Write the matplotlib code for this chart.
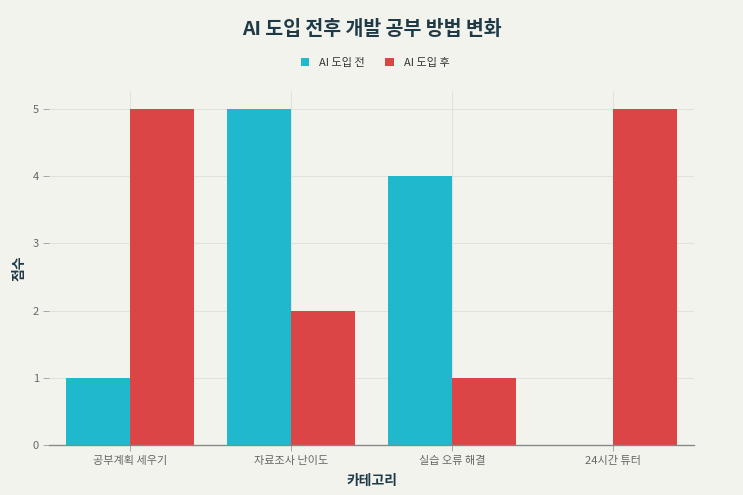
import matplotlib
matplotlib.use("Agg")
import matplotlib.pyplot as plt
import numpy as np
from matplotlib.patches import Patch

plt.rcParams["font.family"] = ["Noto Sans CJK KR", "DejaVu Sans"]

categories = ["공부계획 세우기", "자료조사 난이도", "실습 오류 해결", "24시간 튜터"]
before = [1, 5, 4, 0]
after = [5, 2, 1, 5]
series_names = ["AI 도입 전", "AI 도입 후"]
colors = ["#1FB8CD", "#DB4545"]
bg = "#F3F3EE"

fig = plt.figure(figsize=(7.43, 4.95), dpi=100, facecolor=bg)
ax = fig.add_axes([0.0666, 0.101, 0.8668, 0.715], facecolor=bg)

x = np.arange(len(categories))
w = 0.4
ax.bar(x - w / 2, before, w, color=colors[0], zorder=3)
ax.bar(x + w / 2, after, w, color=colors[1], zorder=3)

ax.set_xlim(-0.5, len(categories) - 0.5)
ax.set_ylim(0, 5.263)
ax.set_xticks(x)
ax.set_xticklabels(categories)
ax.set_yticks(range(6))
ax.grid(True, color="#E2E2DC", linewidth=0.8, zorder=0)
ax.tick_params(axis="both", colors="#9A9A9A", labelcolor="#666666", labelsize=8, length=4, width=0.6)
ax.tick_params(axis="x", pad=4)
for s in ["top", "right", "left"]:
    ax.spines[s].set_visible(False)
ax.spines["bottom"].set_color("#888888")
ax.spines["bottom"].set_linewidth(1)
ax.spines["bottom"].set_zorder(4)

ax.set_xlabel("카테고리", fontsize=10, fontweight="bold", color="#1E3A46", va="center")
ax.set_ylabel("점수", fontsize=10, fontweight="bold", color="#1E3A46", va="center")
ax.xaxis.set_label_coords(0.5, -0.102)
ax.yaxis.set_label_coords(-0.046, 0.5)

fig.text(0.5, 0.94, "AI 도입 전후 개발 공부 방법 변화", ha="center", va="center",
         fontsize=14, fontweight="bold", color="#1E3A46")

handles = [Patch(facecolor=c, edgecolor="none") for c in colors]
fig.legend(handles, series_names, loc="center", bbox_to_anchor=(0.505, 0.873), ncol=2,
           frameon=False, fontsize=8, handlelength=0.8, handleheight=0.8,
           columnspacing=1.8, handletextpad=0.9, labelcolor="#333333")

fig.savefig("out.png", dpi=100, facecolor=bg)
